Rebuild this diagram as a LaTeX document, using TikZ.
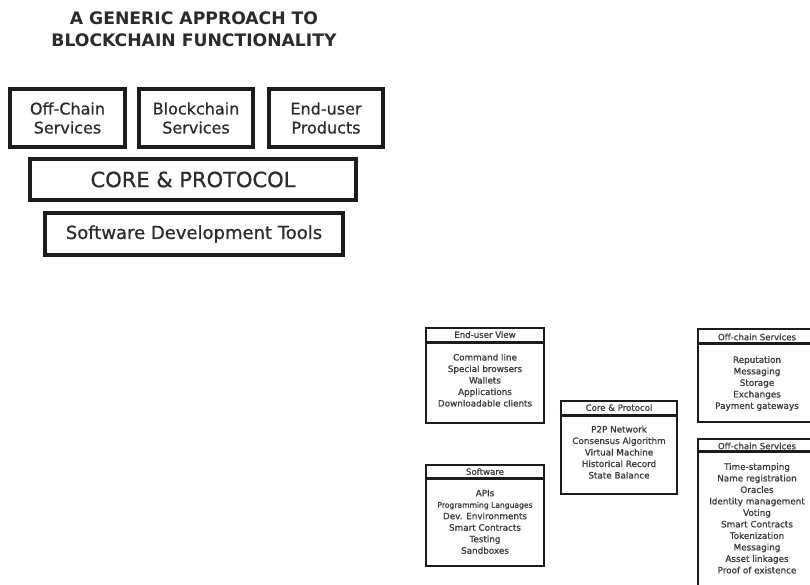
\documentclass[tikz,border=0pt]{standalone}
\usepackage{fontspec}
\setmainfont{DejaVu Sans}
\newfontfamily\heavyface[FakeBold=0.7]{DejaVu Sans}
\newfontfamily\smallface[FakeBold=0.9]{DejaVu Sans}
\usetikzlibrary{calc}
\definecolor{boxline}{HTML}{1C1C1C}
\definecolor{ink}{HTML}{2B2B2B}
\definecolor{smallink}{HTML}{3A3A3A}
\begin{document}
\begin{tikzpicture}[x=1pt,y=-1pt,
  titletxt/.style={align=center, text=ink, inner sep=0pt,
    font=\bfseries\fontsize{17.2}{22}\selectfont},
  bigbox/.style={draw=boxline, line width=3.6pt, inner sep=0pt, align=center,
    text=ink, font=\heavyface\fontsize{16}{19}\selectfont},
  panel/.style={draw=boxline, line width=2.8pt, inner sep=0pt},
  divider/.style={draw=boxline, line width=2.6pt},
  headtxt/.style={text=smallink, inner sep=0pt, font=\smallface\fontsize{8.6}{10}\selectfont},
  items/.style={text=smallink, inner sep=0pt, align=center,
    font=\smallface\fontsize{8.8}{11.5}\selectfont},
]
\useasboundingbox (0,0) rectangle (810,585);
\clip (0,0) rectangle (810,585);
\fill[white] (0,0) rectangle (810,585);

% ---- layered overview ----
\node[titletxt] (title) at (194,29) {A GENERIC APPROACH TO\\BLOCKCHAIN FUNCTIONALITY};

\node[bigbox, minimum width=115pt, minimum height=58pt] (offc) at (67.5,118) {Off-Chain\\Services};
\node[bigbox, minimum width=114pt, minimum height=58pt] (bcs) at (196,118) {Blockchain\\Services};
\node[bigbox, minimum width=114pt, minimum height=58pt] (eup) at (326,118) {End-user\\Products};
\node[bigbox, minimum width=326pt, minimum height=41pt,
  font=\heavyface\fontsize{21}{24}\selectfont] (core) at (193,179.5) {CORE \& PROTOCOL};
\node[bigbox, minimum width=298pt, minimum height=42pt,
  font=\heavyface\fontsize{18}{21}\selectfont] (sdt) at (194,234) {Software Development Tools};

% ---- detailed panels ----
% End-user view
\node[panel, minimum width=118pt, minimum height=95pt] (ev) at (485,375.5) {};
\draw[divider] ([yshift=-16pt]ev.north west) -- ([yshift=-16pt]ev.north east);
\node[headtxt] (evh) at ($(ev.north)+(0,8)$) {End-user View};
\node[items, anchor=north] (evl) at ($(ev.north)+(0,27)$)
  {Command line\\Special browsers\\Wallets\\Applications\\Downloadable clients};

% Software
\node[panel, minimum width=118pt, minimum height=101pt] (sw) at (485,515.5) {};
\draw[divider] ([yshift=-15pt]sw.north west) -- ([yshift=-15pt]sw.north east);
\node[headtxt] (swh) at ($(sw.north)+(0,8)$) {Software};
\node[items, anchor=north] (swl) at ($(sw.north)+(0,26)$)
  {APIs\\{\fontsize{7.6}{11.5}\selectfont Programming Languages}\\Dev. Environments\\Smart Contracts\\Testing\\Sandboxes};

% Core & protocol
\node[panel, minimum width=116pt, minimum height=93pt] (cp) at (619,447.5) {};
\draw[divider] ([yshift=-16pt]cp.north west) -- ([yshift=-16pt]cp.north east);
\node[headtxt] (cph) at ($(cp.north)+(0,8)$) {Core \& Protocol};
\node[items, anchor=north] (cpl) at ($(cp.north)+(0,26)$)
  {P2P Network\\Consensus Algorithm\\Virtual Machine\\Historical Record\\State Balance};

% Off-chain services (upper)
\node[panel, minimum width=120pt, minimum height=93pt] (oc) at (758,375.5) {};
\draw[divider] ([yshift=-16pt]oc.north west) -- ([yshift=-16pt]oc.north east);
\node[headtxt] (och) at (757,337) {Off-chain Services};
\node[items, anchor=north] (ocl) at (757,356)
  {Reputation\\Messaging\\Storage\\Exchanges\\Payment gateways};

% Off-chain services (lower)
\node[panel, minimum width=120pt, minimum height=161pt] (od) at (758,519.5) {};
\draw[divider] ([yshift=-14pt]od.north west) -- ([yshift=-14pt]od.north east);
\node[headtxt] (odh) at (757,446) {Off-chain Services};
\node[items, anchor=north] (odl) at (757,463)
  {Time-stamping\\Name registration\\Oracles\\Identity management\\Voting\\Smart Contracts\\Tokenization\\Messaging\\Asset linkages\\Proof of existence};
\end{tikzpicture}
\end{document}
